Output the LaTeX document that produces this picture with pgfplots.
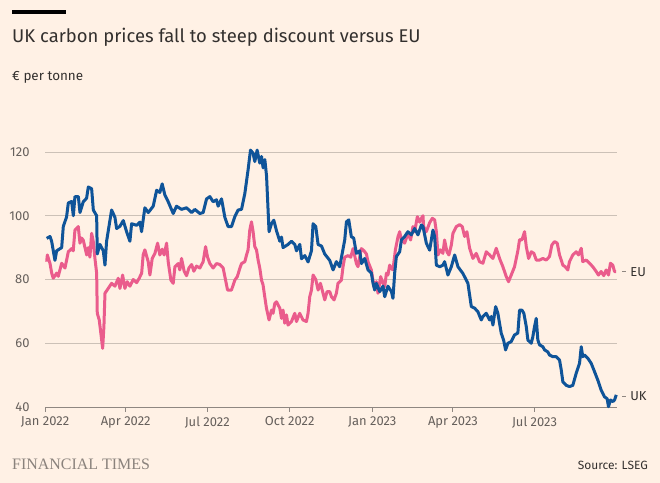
\documentclass[border=0pt]{standalone}
\usepackage{fontspec}
\setmainfont{Fira Sans}
\newfontfamily\ftserif{Liberation Serif}
\usepackage{pgfplots}
\pgfplotsset{compat=1.18}
\definecolor{ftbg}{HTML}{FFF1E5}
\definecolor{gridc}{HTML}{CCC1B7}
\definecolor{axisc}{HTML}{8F8781}
\definecolor{txt}{HTML}{33302E}
\definecolor{tick}{HTML}{66605C}
\definecolor{ukc}{HTML}{0F5499}
\definecolor{euc}{HTML}{EA5C8C}
\definecolor{logoc}{HTML}{8A827C}
\begin{document}
\begin{tikzpicture}[x=1bp,y=1bp]
\fill[ftbg] (0,0) rectangle (660,483);
\useasboundingbox (0,0) rectangle (660,483);
\fill[black] (12,469) rectangle (66,473);
\node[anchor=base west, inner sep=0, text=txt, font=\fontsize{18.5}{22}\selectfont] at (12,440) {UK carbon prices fall to steep discount versus EU};
\node[anchor=base west, inner sep=0, text=txt, font=\fontsize{13.5}{16}\selectfont] at (12,402) {€ per tonne};
\node[anchor=base west, inner sep=0, text=logoc, font=\ftserif\fontsize{16}{18}\selectfont] at (12,13) {FINANCIAL TIMES};
\node[anchor=base east, inner sep=0, text=txt, font=\fontsize{12}{14}\selectfont] at (648,13) {Source: LSEG};
\begin{axis}[
  at={(45bp,76bp)}, anchor=south west, scale only axis,
  width=572bp, height=255bp,
  xmin=0, xmax=638, ymin=40, ymax=120, clip=false,
  axis x line*=bottom, axis y line*=left,
  y axis line style={draw=none},
  x axis line style={draw=axisc, line width=0.9bp},
  ymajorgrids, grid style={draw=gridc, line width=0.8bp},
  xtick={0,90,181,273,365,455,546},
  xticklabels={Jan 2022,Apr 2022,Jul 2022,Oct 2022,Jan 2023,Apr 2023,Jul 2023},
  ytick={40,60,80,100,120},
  xtick pos=bottom, tick align=outside,
  x tick style={draw=axisc, line width=0.9bp},
  major tick length=5bp,
  y tick style={draw=none},
  /pgf/number format/assume math mode=true,
  tick label style={text=tick, font=\fontsize{13}{15}\selectfont},
  yticklabel style={anchor=east, xshift=-7bp},
  xticklabel style={yshift=-1bp},
]
\addplot[euc, line width=3bp, line join=round] coordinates {
(1.9,85.6) (2.6,87.7) (5.6,85) (7.5,82) (9.2,80.4) (13,82) (14.8,81) (18.6,85.1) (22.3,83.6) (26,88.7) (29.8,89.7) (31.5,89) (33.4,95.5) (37.1,96.6) (39,91.4) (40.9,93) (42.7,92.3) (46.5,87.7) (48.2,90) (50.1,87) (52,94.5) (53.8,92) (55.7,86.6) (57.6,82) (58.3,69.4) (60.5,67.3) (63.2,61) (64.3,58.4) (65.7,65.2) (66.9,75.7) (70.5,77.2) (74.3,78.8) (78,77.9) (81.7,80.4) (83.6,77.2) (86.6,81.4) (89.1,77.2) (91.7,79.3) (94.7,77.9) (98.4,80) (102.2,79) (105.1,80.4) (107.8,82) (109.5,87.7) (111.4,89.3) (115.1,85.6) (117,81.4) (119.6,86.6) (122.6,88.2) (125.6,91.4) (128.1,87.7) (130.7,89.5) (132.9,87.7) (135.6,91.4) (137.4,85.6) (140.4,79.8) (143,78.8) (144.9,84) (148.5,85) (150.4,83) (152.3,86.6) (155.2,82.6) (157.9,81.2) (160.5,83.6) (163.5,84.7) (166,82.6) (169,84.2) (172.7,83.6) (176.4,85.6) (179.1,90.3) (181.3,87) (183.9,85) (187.5,83.6) (191.3,85) (195,84.7) (198.7,83.6) (201.4,79.8) (203.6,76.7) (208,76.7) (211.7,79.8) (214.5,80.9) (217.3,83.5) (219.2,85) (222.9,85.6) (224.8,87.7) (226.5,89.3) (228.4,95.5) (230.3,98.1) (232.1,95) (234,90.3) (235.9,89.3) (237.7,86.1) (239.6,83.5) (241.5,79.8) (243.2,78.3) (245.1,74.6) (247,71) (249.9,67.3) (252.6,70.4) (254.4,69.4) (256.3,72.5) (258.2,73) (261.9,71) (263.8,67.8) (265.5,70.4) (267.4,66.3) (269.3,68.9) (271.1,65.7) (274.9,66.8) (278.6,69.4) (280.5,66.8) (284.1,69.4) (287.8,67.3) (291.6,66.8) (293.4,69.4) (295.3,74.6) (297.2,76.7) (299,81.4) (302,80) (304.6,76.7) (307.2,78.8) (310.1,75.7) (312,73.6) (314.6,76.2) (317.6,76.2) (319.5,74.6) (322.4,73.6) (325,75.7) (326.8,78.8) (330.6,79.8) (332.4,84) (334.3,87) (338,87.5) (341,87) (343.6,89.7) (345.4,87.5) (347.3,85) (349.1,84) (351,87) (352.9,89.7) (355.8,89) (358.5,88) (360.3,85.6) (364,83) (366.9,77.7) (369.6,79.3) (371.4,75.7) (374.4,80.9) (377,78.8) (378.9,77.7) (380.8,82) (382.5,81.4) (384.4,84.5) (386.3,83.5) (388.1,83) (390.8,89.3) (393.7,93.4) (395.6,95) (397.5,92.4) (401.1,91.4) (404.8,94.5) (407.8,92.4) (410.4,96.6) (412.3,95) (415.3,99.7) (417.9,98) (419.8,99.2) (421.6,100) (422.3,96.6) (425.3,95) (429,97.8) (432,99.2) (434.6,98.7) (436.5,95) (438.3,87.7) (441,89.3) (443.8,88.2) (445.7,92.4) (448.3,88.7) (450.5,87.7) (453.2,90.8) (455,94.5) (458.8,96.6) (462.4,97.2) (465.4,96.6) (468,93.5) (470.6,95) (473.6,89.8) (477.3,86.6) (481,88.2) (484.7,85.6) (488.4,85.1) (492.2,88.7) (495.9,87.7) (499.6,86.6) (503.3,89.8) (507,86.6) (510.7,84) (514.5,80.9) (517,79.3) (520,81.4) (523.7,84) (527.4,89) (529.3,92.5) (531.9,92.4) (534.9,95) (536.8,90.3) (539.4,86.6) (542.4,88.7) (545.3,88.2) (547.9,86.1) (551.6,86.1) (555.3,86.6) (559.1,86.1) (562.7,87.2) (565.3,90.8) (568.3,91.9) (571.3,91.4) (573.9,87.7) (577.6,84.5) (580.2,84) (583.1,83) (585,85.6) (588.7,87.7) (592.5,88.7) (595.1,87.7) (598.1,89.8) (599.8,85.6) (603.6,86.1) (607.3,85.1) (611,84) (614.8,82.5) (617.3,81.4) (620.3,82.5) (623.2,81.2) (625.9,83) (628.5,81.4) (630.7,85.1) (633.3,84.5) (635.2,82.5) (637.1,82.5)
};
\addplot[ukc, line width=3bp, line join=round] coordinates {
(1.9,92.9) (5.6,93.5) (7.4,92) (11.1,86) (13,89) (18.6,90) (20.4,96.6) (24.1,99.7) (26,104) (29.7,104.5) (31.6,100) (33.4,106) (37.2,106) (39,101) (42.7,104.4) (46.4,105.5) (48.3,109) (52,108.5) (53.9,101.8) (57.6,100) (58.3,88) (61.3,91) (65,89) (66.9,84.5) (68.7,92) (72.4,98.5) (74.3,101.8) (78,99.5) (79.9,96) (83.6,96.7) (87.3,98.5) (91,95) (94.7,92) (96.6,97.5) (102.2,97) (105.9,98) (107.7,95) (109.6,98.9) (111.4,102.5) (115.2,101) (120.7,103) (124.5,108) (128.1,107.3) (130.7,110) (133.7,106.5) (137.4,104.4) (143,100.7) (146.7,103) (152.3,102) (157.9,102.5) (163.5,101) (167.1,102) (172.7,100.7) (176.4,101) (180.2,105.3) (183.9,106) (187.5,104.4) (191.3,105) (193.1,103) (196.9,105.3) (200.6,99.5) (204.2,96.6) (208,96.6) (211.7,99.7) (215.4,101.8) (219.2,102) (222.9,107) (226.5,114.4) (229.2,120.6) (232.1,119.6) (234,117) (236.6,120.6) (239.6,116.5) (241.5,118.6) (243.3,115) (245.2,117.6) (247.1,112.5) (249.9,95) (252.6,97.5) (255.2,98.6) (258.2,95.3) (261.9,92) (263.8,93.3) (265.5,90) (271.1,91) (274.9,92) (278.6,91) (280.5,89) (284.2,91) (286.1,86.5) (289.8,87.5) (293.4,85.5) (297.2,89) (299,97.5) (302,96.6) (304.6,91) (308.4,90.5) (312,88) (317.6,86) (321.3,83) (325,85.6) (328.7,84) (334.3,92.4) (336.2,98.1) (338.8,98.7) (341.7,93.4) (344.3,93) (347.3,88.2) (351,89) (353,85) (356.6,86.6) (360.3,83) (364,82) (365.9,78.8) (367.7,76.7) (369.6,78.8) (373.3,76.2) (377,77.9) (378.9,74.6) (382.5,77.9) (386.4,76.2) (388.1,74.1) (390,82) (391.9,87.2) (395.6,88.7) (397.5,92.4) (401.2,93.5) (404.8,95) (408.6,94) (412.3,96) (416,94) (419.8,97.1) (421.6,96.6) (425.3,91.4) (429,89.2) (432.7,95.5) (434.6,93.5) (436.5,84.5) (440.2,84) (443.8,84.5) (445.7,85.6) (449.4,81.4) (453.2,84) (456.9,87.7) (460.6,84) (466.1,81.9) (471.7,78.8) (475.5,71.5) (479.2,71) (482.8,69.9) (486.6,67.3) (488.4,68.4) (492.2,69.4) (495.9,67.3) (497.8,68.4) (499.6,65.7) (502.6,71.5) (505.1,69.4) (508.9,63.1) (511.5,61) (513.7,57.9) (516.3,60) (520,60.5) (523.7,62.6) (527.4,63.2) (529.3,70.4) (531.9,70.4) (534.1,69.4) (536.8,65.2) (538.6,61) (542.3,60) (544.1,62) (546,65.2) (547.9,67.8) (549.7,61) (551.6,59.5) (555.3,58.9) (557.2,57.9) (560.8,57.3) (562.7,56.3) (566.4,55.8) (570.2,55.8) (573.9,54.7) (575.8,51.6) (577.6,47.9) (581.3,46.8) (585,46.4) (588.7,46.8) (592.5,50.6) (596.2,53.7) (598.1,58.9) (599.8,55.8) (601.7,56.3) (605.4,55.3) (609.2,53.7) (612.9,51.1) (616.6,48.4) (620.3,45.3) (624,43.2) (627,42.6) (628.5,40.1) (630.7,42.2) (633.3,41.7) (635.2,42.2) (637.1,43.8)
};
\draw[axisc, line width=0.8bp] ([xshift=5bp]axis cs:638,82.4) -- ++(4bp,0bp) node[right, inner sep=0, xshift=4bp, text=txt, font=\fontsize{13}{15}\selectfont] {EU};
\draw[axisc, line width=0.8bp] ([xshift=5bp]axis cs:638,43.45) -- ++(4bp,0bp) node[right, inner sep=0, xshift=4bp, text=txt, font=\fontsize{13}{15}\selectfont] {UK};
\end{axis}
\end{tikzpicture}
\end{document}
